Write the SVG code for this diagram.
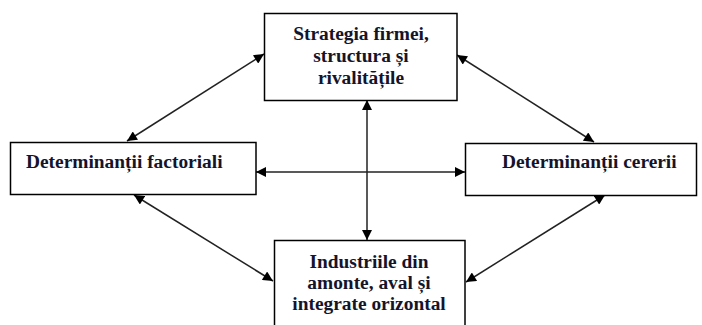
<svg xmlns="http://www.w3.org/2000/svg" width="702" height="325" viewBox="0 0 702 325">
<style>
.box{fill:#fff;stroke:#000;stroke-width:1.5}
.t{font-family:"Liberation Serif","Times New Roman",serif;font-weight:bold;font-size:19.4px;fill:#14142a}
.c{text-anchor:middle}
.ln{stroke:#222;stroke-width:1.5;fill:none;marker-start:url(#ah);marker-end:url(#ah)}
</style>
<defs>
<marker id="ah" viewBox="0 0 10 10" refX="10" refY="5" markerWidth="11" markerHeight="10" markerUnits="userSpaceOnUse" orient="auto-start-reverse">
<path d="M0,0 L10,5 L0,10 z" fill="#000"/>
</marker>
</defs>
<g id="connectors">
<line class="ln" x1="127" y1="141" x2="264" y2="54"/>
<line class="ln" x1="457" y1="55" x2="594" y2="142"/>
<line class="ln" x1="134" y1="195" x2="273" y2="281"/>
<line class="ln" x1="605" y1="195" x2="466" y2="282"/>
<line class="ln" x1="256" y1="172" x2="465" y2="172"/>
<line class="ln" x1="367" y1="100" x2="367" y2="240"/>
</g>
<g id="strategia">
<rect class="box" x="264.5" y="13.5" width="192.5" height="87"/>
<text class="t c" x="361" y="40">Strategia firmei,</text>
<text class="t c" x="361" y="62">structura și</text>
<text class="t c" x="361" y="84">rivalitățile</text>
</g>
<g id="factoriali">
<rect class="box" x="10.5" y="142.5" width="245.5" height="52"/>
<text class="t" x="26" y="168">Determinanții factoriali</text>
</g>
<g id="cererii">
<rect class="box" x="465.5" y="143.5" width="231" height="52"/>
<text class="t" x="502" y="168">Determinanții cererii</text>
</g>
<g id="industriile">
<rect class="box" x="274.5" y="240.5" width="190.5" height="95"/>
<text class="t c" x="369" y="268">Industriile din</text>
<text class="t c" x="369" y="289">amonte, aval și</text>
<text class="t c" x="369" y="310">integrate orizontal</text>
</g>
</svg>
